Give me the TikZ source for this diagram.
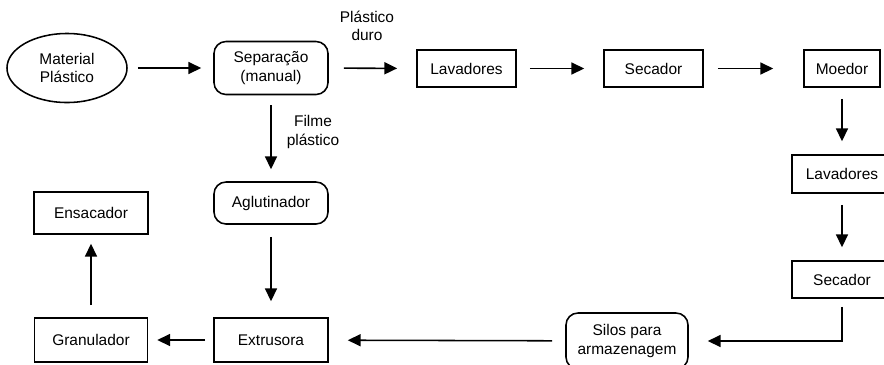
\documentclass[tikz,border=0pt]{standalone}
\usepackage{fontspec}
\setmainfont{Liberation Sans}
\usetikzlibrary{shapes.geometric, arrows.meta}

\begin{document}
\begin{tikzpicture}[x=0.025cm, y=-0.025cm,
  font=\fontsize{11}{13}\selectfont,
  box/.style={draw, line width=1.1pt, inner sep=0pt, align=center},
  roundbox/.style={box, rounded corners=3mm},
  flow/.style={-{Triangle[length=3.2mm, width=3mm]}, line width=1.1pt}]
\useasboundingbox (0,0) rectangle (884,364);

% start and the rounded steps
\node[box, ellipse, minimum width=30mm, minimum height=17.25mm] (mat) at (67,68) {Material\\Plástico};
\node[roundbox, minimum width=28.5mm, minimum height=13.25mm] (sep) at (271,68) {Separação\\(manual)};
\node[roundbox, minimum width=28.5mm, minimum height=10.5mm] (agl) at (271,203) {Aglutinador};
\node[roundbox, minimum width=30.5mm, minimum height=14mm] (silos) at (627,341) {Silos para\\armazenagem};

% plain boxes: name / x / y / width / height (mm) / text
\foreach \name/\x/\y/\w/\h/\txt in {lav1/466.5/68.5/24.75/9.25/Lavadores,
    sec1/653.5/68.5/24.75/9.25/Secador, moe/842/68.5/19/9.25/Moedor,
    lav2/842/174/25/9.5/Lavadores, sec2/842/279.5/25/9.25/Secador,
    ext/271/340/28.5/11/Extrusora, gran/91/340/28.25/11/Granulador,
    ens/91/213/28.5/10.5/Ensacador} {
  \node[box, minimum width=\w mm, minimum height=\h mm] (\name) at (\x,\y) {\txt};
}

% branch labels
\node[align=center] (duro) at (367,26) {Plástico\\duro};
\node[align=center] (filme) at (313,132) {Filme\\plástico};

% hard plastic line, along the top and down the right
\draw[flow, shorten <=2.5mm, shorten >=3mm] (mat) -- (sep);
\draw[flow, shorten <=3.75mm, shorten >=4.75mm] (sep) -- (lav1);
\draw[flow, shorten <=3.25mm, shorten >=4.75mm] (lav1) -- (sec1);
\draw[flow, shorten <=3.5mm, shorten >=7.5mm] (sec1) -- (moe);
\draw[flow, shorten <=2.75mm, shorten >=3.25mm] (moe) -- (lav2);
\draw[flow, shorten <=2.75mm, shorten >=3.25mm] (lav2) -- (sec2);
\draw[flow, shorten <=2mm, shorten >=4.75mm] (sec2) |- (silos);
\draw[flow, shorten <=3.25mm, shorten >=4.75mm] (silos) -- (ext);

% film line, down the middle
\draw[flow, shorten <=2.5mm, shorten >=3mm] (sep) -- (agl);
\draw[flow, shorten <=3mm, shorten >=4mm] (agl) -- (ext);
\draw[flow, shorten <=2mm, shorten >=2.25mm] (ext) -- (gran);
\draw[flow, shorten <=3mm, shorten >=2.25mm] (gran) -- (ens);
\end{tikzpicture}
\end{document}
